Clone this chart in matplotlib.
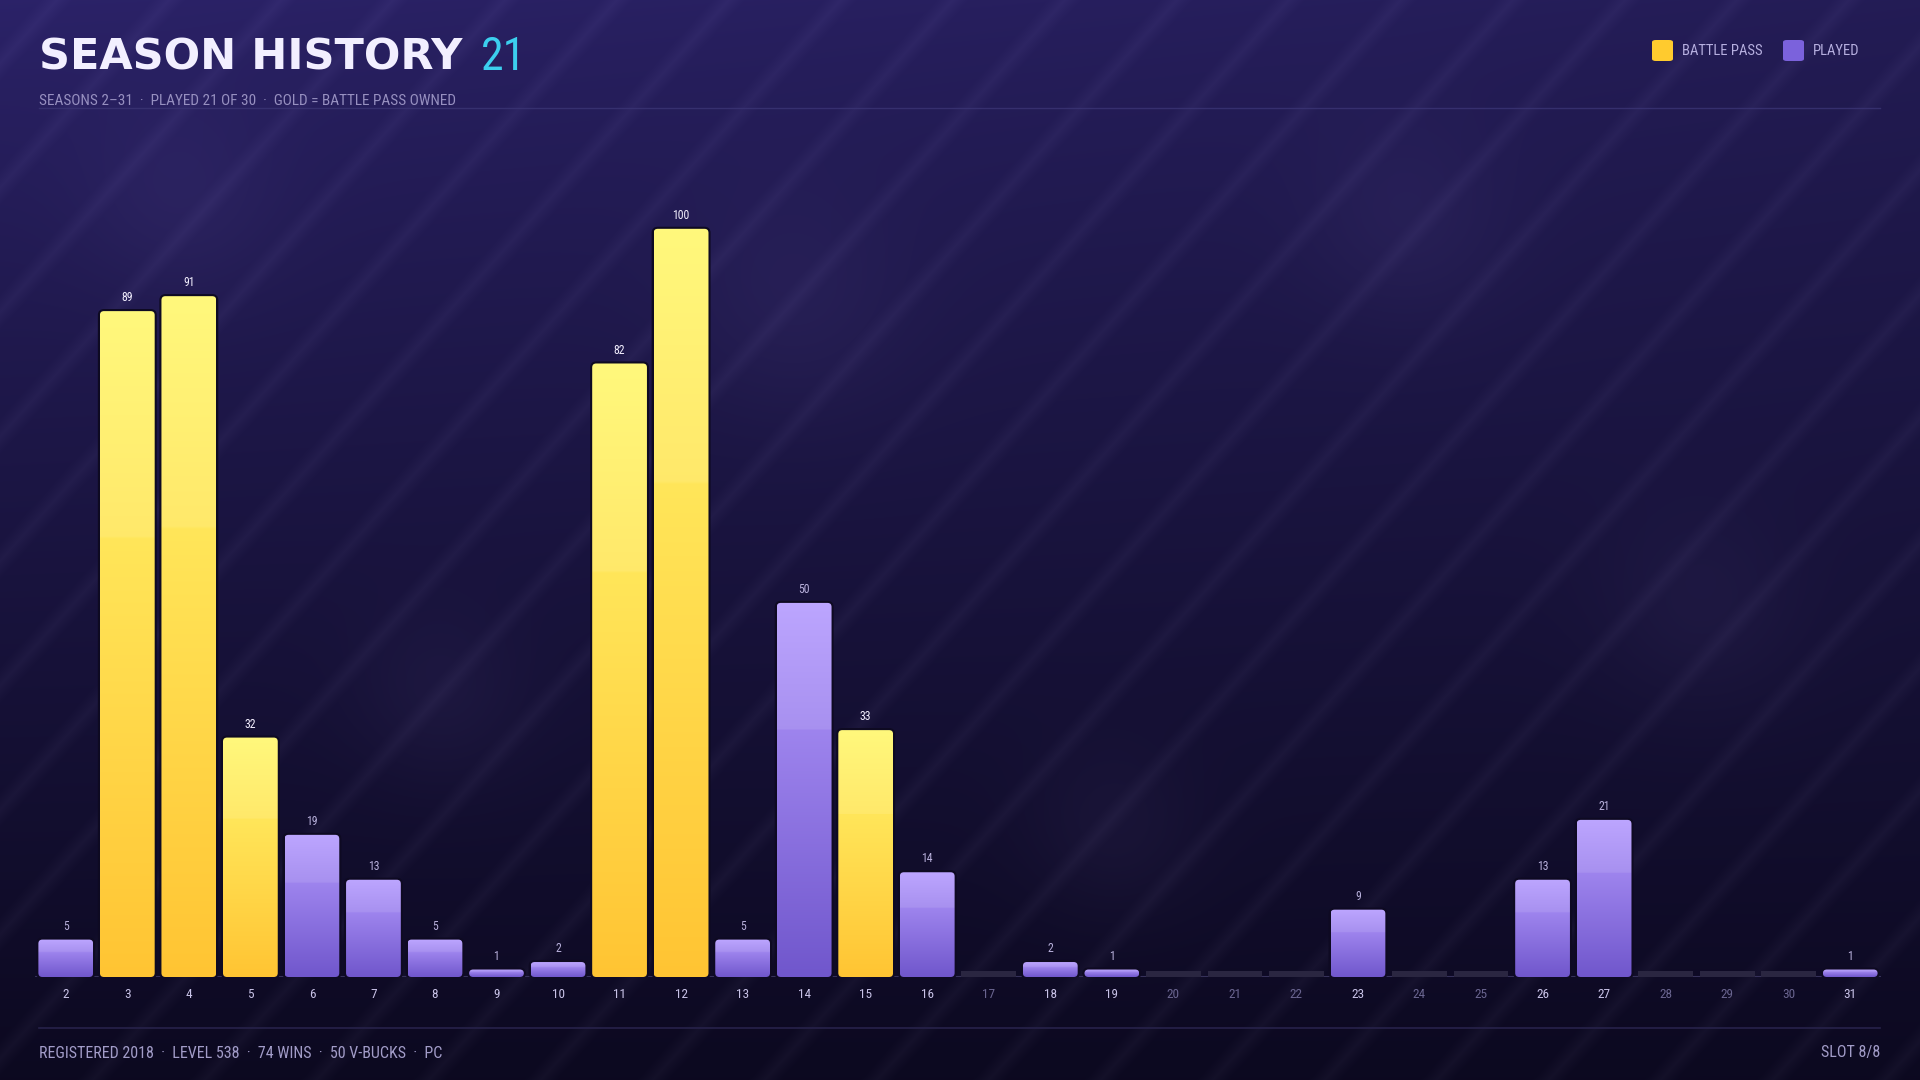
import numpy as np
import matplotlib
matplotlib.use("Agg")
import matplotlib.pyplot as plt
from matplotlib.patches import FancyBboxPatch

# season data
seasons = list(range(2, 32))
matches = [5, 89, 91, 32, 19, 13, 5, 1, 2, 82, 100, 5, 50, 33, 14, 0, 2, 1, 0, 0,
           0, 9, 0, 0, 13, 21, 0, 0, 0, 1]
battle_pass = [3, 4, 5, 11, 12, 15]

title = "SEASON HISTORY"
title_count = "21"
subtitle = "SEASONS 2\u201331  \u00b7  PLAYED 21 OF 30  \u00b7  GOLD = BATTLE PASS OWNED"
footer_left = "REGISTERED 2018  \u00b7  LEVEL 538  \u00b7  74 WINS  \u00b7  50 V-BUCKS  \u00b7  PC"
footer_right = "SLOT 8/8"

W, H = 1920, 1080
COND = ["Liberation Sans Narrow", "Roboto Condensed", "Roboto", "DejaVu Sans"]

GOLD_TOP, GOLD_BOT = np.array([1.0, 0.97, 0.43]), np.array([1.0, 0.77, 0.20])
PURP_TOP, PURP_BOT = np.array([0.71, 0.61, 1.0]), np.array([0.44, 0.34, 0.80])


def px(x, y):
    return x / W, 1 - y / H


def background():
    yy, xx = np.mgrid[0:H, 0:W].astype(float)
    ty = yy / H
    tx = xx / W
    top = np.array([0.170, 0.135, 0.410])
    bot = np.array([0.047, 0.035, 0.125])
    t = ty[..., None] ** 0.85
    img = top * (1 - t) + bot * t
    img *= (1 - 0.18 * tx * (1 - ty))[..., None]
    # diagonal stripes
    phase = ((xx + 0.9 * yy) % 112) / 112
    stripe = np.clip(1 - np.abs(phase - 0.5) / 0.15, 0, 1) ** 1.1
    img += (0.034 * stripe)[..., None] * np.array([0.9, 0.85, 1.0])
    # soft glows
    for cx, cy, r in [(181, 202, 70), (796, 306, 80), (1408, 226, 70),
                      (1702, 612, 70), (1114, 833, 60), (441, 698, 60)]:
        g = np.exp(-((xx - cx) ** 2 + (yy - cy) ** 2) / (2 * r ** 2))
        img += (0.035 * g)[..., None] * np.array([0.8, 0.7, 1.0])
    return np.clip(img, 0, 1)


def grad(top, bot):
    t = np.linspace(0, 1, 256)[:, None]
    col = top * (1 - t) + bot * t
    band = (t < 0.34).astype(float)
    col = col * (1 - 0.10 * band) + 0.10 * band
    return col[:, None, :]


fig = plt.figure(figsize=(19.2, 10.8), dpi=100)
bg = fig.add_axes([0, 0, 1, 1], zorder=-10)
bg.imshow(background(), extent=[0, W, H, 0], aspect="auto", interpolation="bilinear")
bg.axis("off")

# plot area: baseline at y=977px, left 35px, right 1881px
x0, x1 = 35, 1881
ybase, ytop = 977, 154
ax = fig.add_axes([x0 / W, 1 - ybase / H, (x1 - x0) / W, (ybase - ytop) / H])
ax.set_facecolor("none")
for s in ax.spines.values():
    s.set_visible(False)

n = len(seasons)
idx = np.arange(n)
ax.set_xlim(-0.5, n - 0.5)
ax.set_ylim(0, 110)
ax.set_yticks([])

bw = 0.89
xscale = (x1 - x0) / n
yscale = (ybase - ytop) / 110.0
rad_px = 4
rs = rad_px / xscale
aspect = (rad_px / yscale) / rs

# zero-season stubs
zero = [i for i in idx if matches[i] == 0]
stub_h = 0.75
ax.bar(zero, [stub_h] * len(zero), width=bw, color="#2a2641", zorder=2)

bars = ax.bar(idx, matches, width=bw, color="none", zorder=1)
for i, rect in enumerate(bars):
    v = matches[i]
    if v == 0:
        continue
    gold = seasons[i] in battle_pass
    bx, bh = rect.get_x(), rect.get_height()
    outline = FancyBboxPatch((bx, 0), bw, bh,
                             boxstyle=f"round,pad=0,rounding_size={rs}",
                             mutation_aspect=aspect, facecolor="#0e0a22",
                             edgecolor="#0e0a22", lw=3, zorder=2)
    ax.add_patch(outline)
    clip = FancyBboxPatch((bx, 0), bw, bh,
                          boxstyle=f"round,pad=0,rounding_size={rs}",
                          mutation_aspect=aspect, facecolor="none",
                          edgecolor="none", transform=ax.transData)
    ax.add_patch(clip)
    g = grad(GOLD_TOP, GOLD_BOT) if gold else grad(PURP_TOP, PURP_BOT)
    im = ax.imshow(g, extent=[bx, bx + bw, 0, bh], aspect="auto",
                   interpolation="bilinear", zorder=3)
    im.set_clip_path(clip)
    ax.annotate(str(v), (rect.get_x() + bw / 2, bh), xytext=(0, 5),
                textcoords="offset points", ha="center", va="bottom",
                fontsize=8.5, family=COND,
                color="#f4f0ff" if gold else "#b9b1dc", zorder=4)

ax.set_xlim(-0.5, n - 0.5)
ax.set_ylim(0, 110)
ax.axhline(0, color="#36315a", lw=1.5, zorder=1)

ax.set_xticks(idx)
ax.set_xticklabels([str(s) for s in seasons], family=COND, fontsize=9.5)
ax.tick_params(axis="x", length=0, pad=8)
for lab, v in zip(ax.get_xticklabels(), matches):
    lab.set_color("#c9c3e8" if v > 0 else "#6a6590")

# header
fig.text(*px(39, 57), title, fontsize=31, fontweight="heavy",
         family="DejaVu Sans", color="#f2efff", va="center", ha="left")
fig.text(*px(481, 57), title_count, fontsize=33, family=COND,
         color="#3ccfee", va="center", ha="left")
fig.text(*px(39, 101), subtitle, fontsize=11, family=COND,
         color="#9790c0", va="center", ha="left")
fig.add_artist(plt.Line2D([39 / W, 1880 / W], [1 - 108 / H] * 2,
                          color="#3b3575", lw=1, alpha=0.8))

# legend
for sx, col, lab in [(1652, "#ffcb2e", "BATTLE PASS"), (1783, "#7b62dc", "PLAYED")]:
    fig.add_artist(FancyBboxPatch((sx / W, 1 - 61 / H), 21 / W, 21 / H,
                                  boxstyle="round,pad=0,rounding_size=0.002",
                                  transform=fig.transFigure,
                                  facecolor=col, edgecolor="none"))
    fig.text(*px(sx + 30, 51), lab, fontsize=10.5, family=COND,
             color="#b6afdf", va="center", ha="left")

# footer
fig.add_artist(plt.Line2D([39 / W, 1880 / W], [1 - 1028 / H] * 2,
                          color="#27224a", lw=1.2))
fig.text(*px(39, 1053), footer_left, fontsize=11.5, family=COND,
         color="#a29cc8", va="center", ha="left")
fig.text(*px(1880, 1053), footer_right, fontsize=11.5, family=COND,
         color="#a29cc8", va="center", ha="right")

fig.savefig("out.png", dpi=100)
